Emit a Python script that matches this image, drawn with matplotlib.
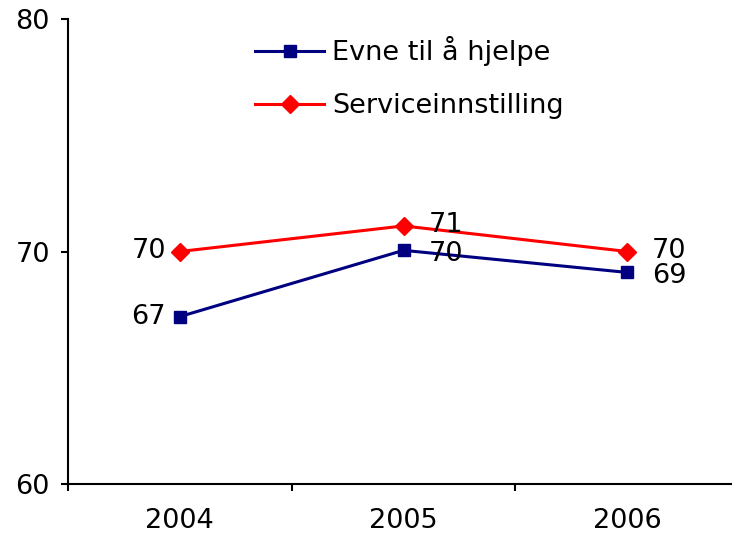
import numpy as np
import matplotlib
matplotlib.use('Agg')
import matplotlib.pyplot as plt

# chart data
years = ['2004', '2005', '2006']
evne = [67.2, 70.05, 69.1]
service = [70.0, 71.1, 70.0]
labels = ['Evne til å hjelpe', 'Serviceinnstilling']

plt.rcParams['font.family'] = ['DejaVu Sans']
fs = 19.5

fig = plt.figure(figsize=(7.32, 5.34), dpi=100)
ax = fig.add_axes([68 / 732, 1 - 484 / 534, 671 / 732, 465 / 534])

x = np.arange(len(years))
ax.plot(x, evne, '-s', color='#000080', lw=2.2, ms=9, label=labels[0])
ax.plot(x, service, '-D', color='#ff0000', lw=2.2, ms=9, label=labels[1])

# data labels: left of the first point, right of the others
ax.annotate(f'{evne[0]:.0f}', (x[0], evne[0]), xytext=(-10, 0), textcoords='offset points',
            ha='right', va='center', fontsize=fs)
ax.annotate(f'{service[0]:.0f}', (x[0], service[0]), xytext=(-10, 0), textcoords='offset points',
            ha='right', va='center', fontsize=fs)
for i in [1, 2]:
    ax.annotate(f'{evne[i]:.0f}', (x[i], evne[i]), xytext=(18, -2.5), textcoords='offset points',
                ha='left', va='center', fontsize=fs)
    ax.annotate(f'{service[i]:.0f}', (x[i], service[i]), xytext=(18, 0.5), textcoords='offset points',
                ha='left', va='center', fontsize=fs)

ax.set_xlim(-0.5, 2.5)
ax.set_ylim(60, 80)
ax.set_yticks([60, 70, 80])
ax.set_xticks(x)
ax.set_xticklabels(years)
ax.set_xticks([-0.5, 0.5, 1.5, 2.5], minor=True)
ax.tick_params(axis='x', which='major', length=0, labelsize=fs, pad=17)
ax.tick_params(axis='x', which='minor', length=5, width=1.5, direction='out')
ax.tick_params(axis='y', length=5, width=1.5, direction='out', labelsize=fs, pad=8)

for s in ['top', 'right']:
    ax.spines[s].set_visible(False)
for s in ['left', 'bottom']:
    ax.spines[s].set_linewidth(1.5)

ax.legend(loc='upper left', bbox_to_anchor=(255 / 732, 1 - 36 / 534), bbox_transform=fig.transFigure,
          frameon=False, fontsize=fs, handlelength=2.55, handletextpad=0.3, labelspacing=1.0,
          borderpad=0, borderaxespad=0)

fig.savefig('out.png', dpi=100)
